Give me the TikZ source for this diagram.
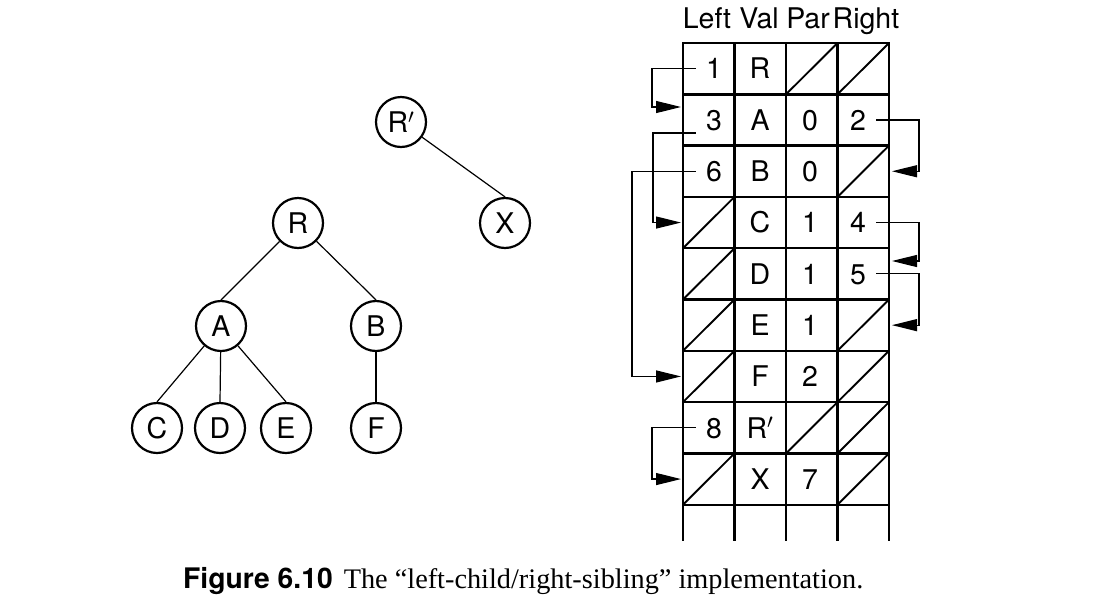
\documentclass[tikz,border=0pt]{standalone}
\usepackage{fontspec}
\setmainfont{Liberation Serif}
\newfontfamily\heros{TeX Gyre Heros}
\usetikzlibrary{arrows.meta}
\newcommand\labfont{\heros\fontsize{28.5}{33}\selectfont}
\begin{document}
\begin{tikzpicture}[x=1pt,y=-1pt,
  tnode/.style={circle,draw,line width=2.2pt,minimum size=50pt,inner sep=0pt,
     font=\labfont,text height=20.5pt,text depth=0pt},
  edge/.style={line width=1.2pt},
  gridline/.style={line width=2.4pt,line cap=rect},
  slash/.style={line width=1.9pt},
  cell/.style={inner sep=0pt,font=\labfont,text height=20.5pt,text depth=0pt},
  head/.style={inner sep=0pt,font=\labfont,anchor=base},
  ptr/.style={line width=1.2pt,-{Triangle[length=25pt,width=12pt]}}
]
\fill[white] (0,0) rectangle (1104,614);
\useasboundingbox (0,0) rectangle (1104,614);

% ---------------- tree ----------------
\node[tnode] (Rp) at (401,122) {R$'$};
\node[tnode] (X)  at (505,223) {X};
\node[tnode] (R)  at (298,223) {R};
\node[tnode] (A)  at (221,326) {A};
\node[tnode] (B)  at (376,326) {B};
\node[tnode] (C)  at (157,428) {C};
\node[tnode] (D)  at (220,428) {D};
\node[tnode] (E)  at (286,428) {E};
\node[tnode] (F)  at (376,428) {F};
\draw[edge] (Rp) -- (X.north);
\draw[edge] (R) -- (A.north);
\draw[edge] (R) -- (B.north);
\draw[edge] (A) -- (C.north);
\draw[edge] (A) -- (D.north);
\draw[edge] (A) -- (E.north);
\draw[edge] (B) -- (F.north);

% ---------------- table ----------------
\node[head] (hL) at (707,28) {Left};
\node[head] (hV) at (759,28) {Val};
\node[head] (hP) at (808,28) {Par};
\node[head] (hR) at (866,28) {Right};

\foreach \k in {0,...,9}
  \draw[gridline] (683,{43+51.3*\k}) -- (889,{43+51.3*\k});
\foreach \c in {0,...,4}
  \draw[gridline] ({683+51.5*\c},43) -- ({683+51.5*\c},540);

\foreach \c/\r in {2/0,3/0,3/2,0/3,0/4,0/5,3/5,0/6,3/6,2/7,3/7,0/8,3/8}
  \draw[slash] ({683+51.5*\c},{43+51.3*(\r+1)}) -- ({683+51.5*(\c+1)},{43+51.3*\r});

% cell texts
\node[cell] (L0) at (714,68.65)  {1};
\node[cell] (V0) at (760,68.65)  {R};
\node[cell] (L1) at (714,119.95) {3};
\node[cell] (V1) at (760,119.95) {A};
\node[cell] (P1) at (810,119.95) {0};
\node[cell] (R1) at (858,119.95) {2};
\node[cell] (L2) at (714,171.25) {6};
\node[cell] (V2) at (760,171.25) {B};
\node[cell] (P2) at (810,171.25) {0};
\node[cell] (V3) at (760,222.55) {C};
\node[cell] (P3) at (810,222.55) {1};
\node[cell] (R3) at (858,222.55) {4};
\node[cell] (V4) at (760,273.85) {D};
\node[cell] (P4) at (810,273.85) {1};
\node[cell] (R4) at (858,273.85) {5};
\node[cell] (V5) at (760,325.15) {E};
\node[cell] (P5) at (810,325.15) {1};
\node[cell] (V6) at (760,376.45) {F};
\node[cell] (P6) at (810,376.45) {2};
\node[cell] (L7) at (714,427.75) {8};
\node[cell] (V7) at (760,427.75) {R$'$};
\node[cell] (V8) at (760,479.05) {X};
\node[cell] (P8) at (810,479.05) {7};

% arrow targets
\coordinate (inA) at (681,107);
\coordinate (inC) at (681,222.55);
\coordinate (inF) at (681,376.45);
\coordinate (inX) at (681,479.05);
\coordinate (inB) at (892,171.25);
\coordinate (inD) at (892,261);
\coordinate (inE) at (892,325.15);

\draw[ptr] ([xshift=-10pt]L0.west) -- (652,68.65) |- (inA);
\draw[ptr] ([xshift=-10pt,yshift=-13pt]L1.west) -- (653,132.95) |- (inC);
\draw[ptr] ([xshift=-10pt]L2.west) -- (632,171.25) |- (inF);
\draw[ptr] ([xshift=-10pt]L7.west) -- (652,427.75) |- (inX);
\draw[ptr] ([xshift=10pt]R1.east) -- (919,119.95) |- (inB);
\draw[ptr] ([xshift=10pt]R3.east) -- (919,222.55) |- (inD);
\draw[ptr] ([xshift=10pt]R4.east) -- (919,273.85) |- (inE);

% ---------------- caption ----------------
\node[anchor=base west,inner sep=0pt] (cap) at (183,588)
  {{\heros\bfseries\fontsize{28.3}{32}\selectfont Figure 6.10}\hspace{11pt}%
   {\fontsize{28.3}{32}\selectfont The “left-child/right-sibling” implementation.}};
\end{tikzpicture}
\end{document}
